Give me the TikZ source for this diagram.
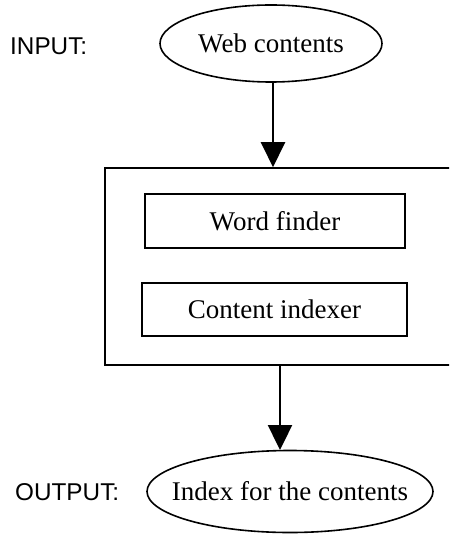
\documentclass[tikz,border=0pt]{standalone}
\usepackage{fontspec}
\setmainfont{Liberation Serif}
\newfontfamily\labelfont{Liberation Sans}
\usetikzlibrary{shapes.geometric,arrows.meta}

\tikzset{
  ioshape/.style={draw,ellipse,line width=1.6pt,inner sep=0pt,font=\fontsize{27}{31}\selectfont},
  partbox/.style={draw,rectangle,line width=1.6pt,inner sep=0pt,font=\fontsize{27}{31}\selectfont},
  iolabel/.style={anchor=base west,inner sep=0pt,font=\labelfont\fontsize{24.3}{29}\selectfont},
  flow/.style={line width=2.4pt,-{Triangle[length=25pt,width=24pt]}}
}

\begin{document}
\begin{tikzpicture}[x=1pt,y=-1pt]
\useasboundingbox (0,0) rectangle (449,534);
\clip (0,0) rectangle (449,534);

\node[ioshape,minimum width=222pt,minimum height=77pt] (web) at (271,43.5) {Web contents};
\node[ioshape,inner xsep=-20pt,minimum width=286pt,minimum height=82pt] (index) at (290,491.5) {Index for the contents};

\node[iolabel] (inlabel) at (10,55) {INPUT:};
\node[iolabel] (outlabel) at (15,500) {OUTPUT:};

% outer block runs past the right edge
\node[partbox,minimum width=370pt,minimum height=197pt] (engine) at (290,266.5) {};
\node[partbox,minimum width=260pt,minimum height=54pt] (finder) at (275,221) {Word finder};
\node[partbox,minimum width=265pt,minimum height=53pt] (indexer) at (274.5,309.5) {Content indexer};

\coordinate (outtop) at (280,450);
\draw[flow] (web.south -| 273,0) -- (273,0 |- engine.north);
\draw[flow] (outtop |- engine.south) -- (outtop);
\end{tikzpicture}
\end{document}
